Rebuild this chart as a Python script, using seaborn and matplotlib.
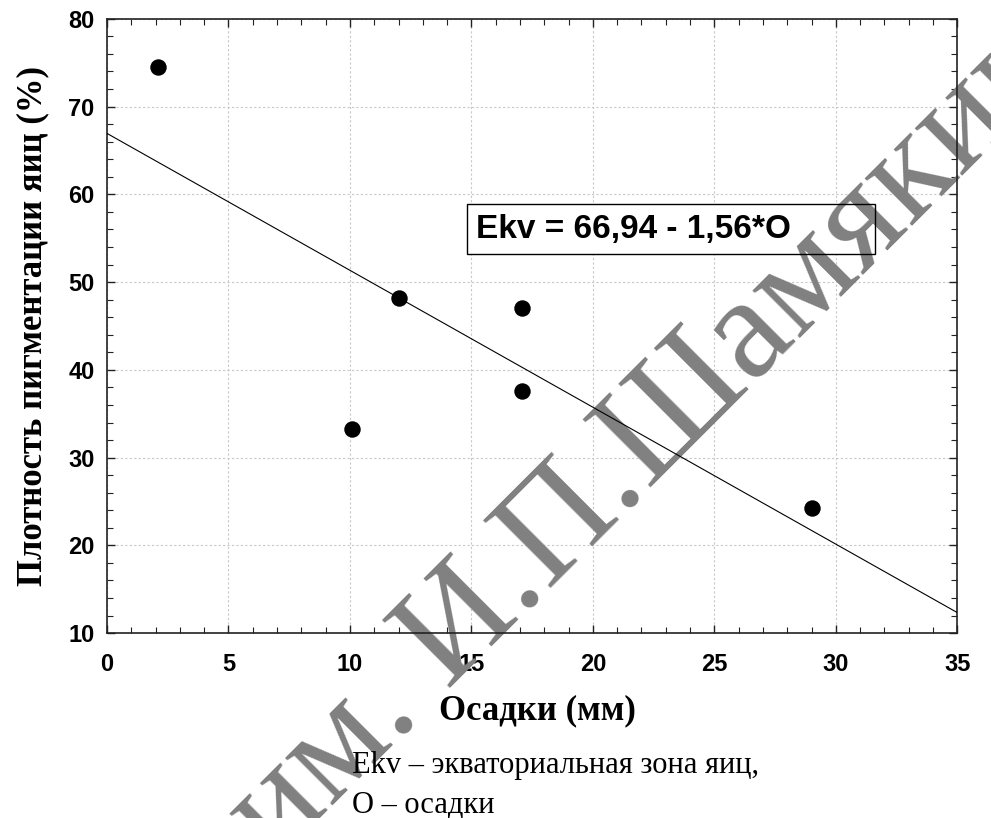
import matplotlib
matplotlib.use("Agg")
import matplotlib.pyplot as plt
from matplotlib.patches import Rectangle
from matplotlib.ticker import MultipleLocator
import seaborn as sns
import pandas as pd
import numpy as np

# data
osadki = [2.1, 10.1, 12.0, 17.1, 17.1, 29.0]
ekv = [74.5, 33.3, 48.2, 47.1, 37.6, 24.3]
intercept = 66.94
slope = -1.56

df = pd.DataFrame({"O": osadki, "Ekv": ekv})
xfit = np.array([0, 35])
fit = pd.DataFrame({"O": xfit, "Ekv": intercept + slope * xfit})

sns.set_style("white")
plt.rcParams['font.family'] = ['Liberation Sans', 'DejaVu Sans']
plt.rcParams['text.color'] = 'black'
plt.rcParams['axes.labelcolor'] = 'black'
plt.rcParams['xtick.color'] = 'black'
plt.rcParams['ytick.color'] = 'black'

fig = plt.figure(figsize=(9.91, 8.18), dpi=100)
ax = fig.add_axes([0.108, 0.226, 0.858, 0.751])

sns.lineplot(x="O", y="Ekv", data=fit, color="black", linewidth=0.8, ax=ax, zorder=3)
sns.scatterplot(x="O", y="Ekv", data=df, color="black", s=140, edgecolor="black",
                linewidth=0, ax=ax, zorder=4)

ax.set_xlim(0, 35)
ax.set_ylim(10, 80)
ax.xaxis.set_major_locator(MultipleLocator(5))
ax.xaxis.set_minor_locator(MultipleLocator(1))
ax.yaxis.set_major_locator(MultipleLocator(10))
ax.yaxis.set_minor_locator(MultipleLocator(2))
ax.grid(True, which="major", color="#c8c8c8", linestyle=(0, (2, 2)), linewidth=0.8)
ax.set_axisbelow(True)

ax.tick_params(which="both", direction="in", top=True, right=True, bottom=True, left=True,
               color="#222222", labelcolor="black")
ax.tick_params(which="major", length=6, width=1)
ax.tick_params(which="minor", length=4, width=0.8)
ax.tick_params(axis="x", which="major", pad=14)
ax.tick_params(axis="y", which="major", pad=9)
for lab in ax.get_xticklabels() + ax.get_yticklabels():
    lab.set_fontsize(17)
    lab.set_fontweight("bold")
for sp in ax.spines.values():
    sp.set_color("#222222")
    sp.set_linewidth(1.2)

ax.set_xlabel("Осадки (мм)", family="Liberation Serif", fontsize=25, fontweight="bold")
ax.set_ylabel("Плотность пигментации яиц (%)", family="Liberation Serif", fontsize=25,
              fontweight="bold")
ax.xaxis.set_label_coords(0.506, -0.1)
ax.yaxis.set_label_coords(-0.068, 0.5)

# equation box
ax.add_patch(Rectangle((0.4235, 0.617), 0.48, 0.082, transform=ax.transAxes,
                       facecolor="white", edgecolor="none", zorder=1))
ax.add_patch(Rectangle((0.4235, 0.617), 0.48, 0.082, transform=ax.transAxes,
                       facecolor="none", edgecolor="black", linewidth=1, zorder=5))
ax.text(0.434, 0.657, "Ekv = 66,94 - 1,56*O", transform=ax.transAxes, fontsize=24,
        fontweight="bold", va="center", ha="left", zorder=6)

# watermark
ax.text(0.2785, -0.054, "им. И.П.Шамякина", transform=fig.transFigure, family="Liberation Serif",
        fontsize=105, color="#808080", rotation=45, rotation_mode="anchor",
        ha="left", va="baseline", clip_on=False, zorder=2)

# caption
fig.text(0.355, (818 - 773) / 818, "Ekv – экваториальная зона яиц,", family="Liberation Serif",
         fontsize=22, ha="left", va="baseline")
fig.text(0.355, (818 - 813) / 818, "О – осадки", family="Liberation Serif",
         fontsize=22, ha="left", va="baseline")

fig.savefig("out.png", dpi=100)
